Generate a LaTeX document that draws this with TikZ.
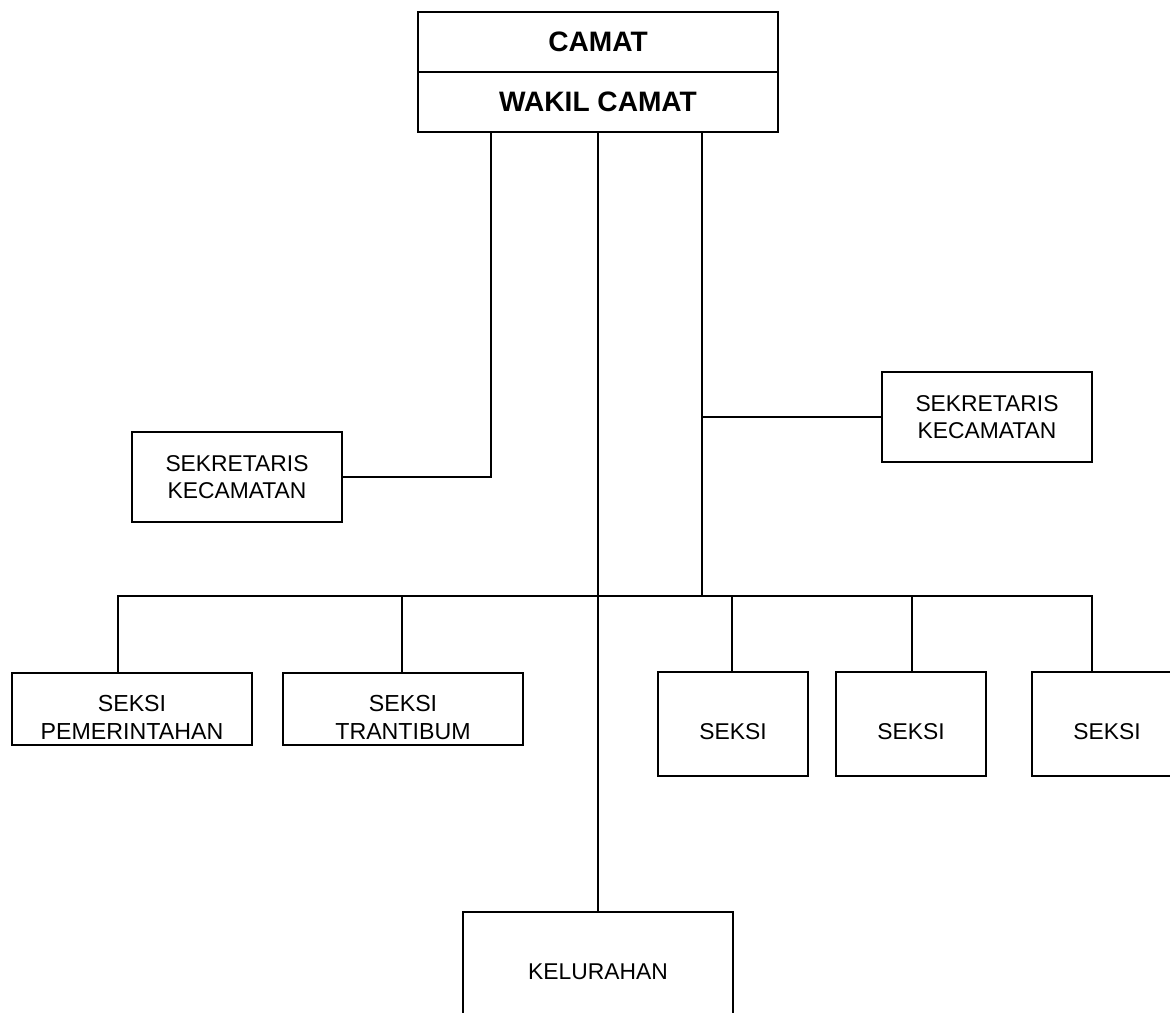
\documentclass[tikz,border=0pt]{standalone}
\usepackage{fontspec}
\setmainfont{Liberation Sans}
\usetikzlibrary{calc,positioning}

\begin{document}
\begin{tikzpicture}[x=0.02cm,y=-0.02cm,line width=0.04cm,
	kotak/.style={draw,rectangle,inner sep=0pt,align=center,font=\fontsize{13}{15.5}\selectfont},
	kepala/.style={kotak,outer sep=0pt,minimum width=7.2cm,minimum height=1.2cm,font=\fontsize{16}{19}\selectfont\bfseries},
	seksi/.style={kotak,minimum width=3cm,minimum height=2.08cm,text height=0.64cm,text depth=0cm},
	sekre/.style={kotak,minimum width=4.2cm,minimum height=1.8cm},
	bawah/.style={kotak,minimum width=4.8cm,minimum height=1.44cm,text height=1.24cm,text depth=0cm,
		font=\fontsize{13.2}{16.5}\selectfont}]

	\useasboundingbox (0,0) rectangle (1170,1013);

	\node[kepala] (camat) at (598,42) {CAMAT};
	\node[kepala,below=0pt of camat] (wakil) {WAKIL CAMAT};

	\node[sekre] (sekkiri) at (237,477) {SEKRETARIS\\KECAMATAN};
	\node[sekre] (sekkanan) at (987,417) {SEKRETARIS\\KECAMATAN};

	\node[bawah] (pemerintahan) at (132,709) {SEKSI\\PEMERINTAHAN};
	\node[bawah] (trantibum) at (403,709) {SEKSI\\TRANTIBUM};
	\node[seksi] (seksia) at (733,724) {SEKSI};
	\node[seksi] (seksib) at (911,724) {SEKSI};
	\node[seksi] (seksic) at (1107,724) {SEKSI};

	\node[kotak,minimum width=5.4cm,minimum height=2.4cm] (kelurahan) at (598,972) {KELURAHAN};

	\coordinate (buskiri) at (118,596);
	\coordinate (buskanan) at (1092,596);
	\coordinate (cabang) at (702,596);

	\draw (sekkiri.east) -| (wakil.south -| 491,0);
	\draw (wakil.south) -- (kelurahan.north);
	\draw (wakil.south -| cabang) -- (cabang);
	\draw (sekkanan.west) -- (sekkanan.west -| cabang);

	\draw (pemerintahan.north -| buskiri) |- (buskanan) -- (seksic.north -| buskanan);
	\foreach \x/\n in {402/trantibum,732/seksia,912/seksib}
		\draw (\x,596) -- (\n.north -| \x,0);
\end{tikzpicture}
\end{document}
